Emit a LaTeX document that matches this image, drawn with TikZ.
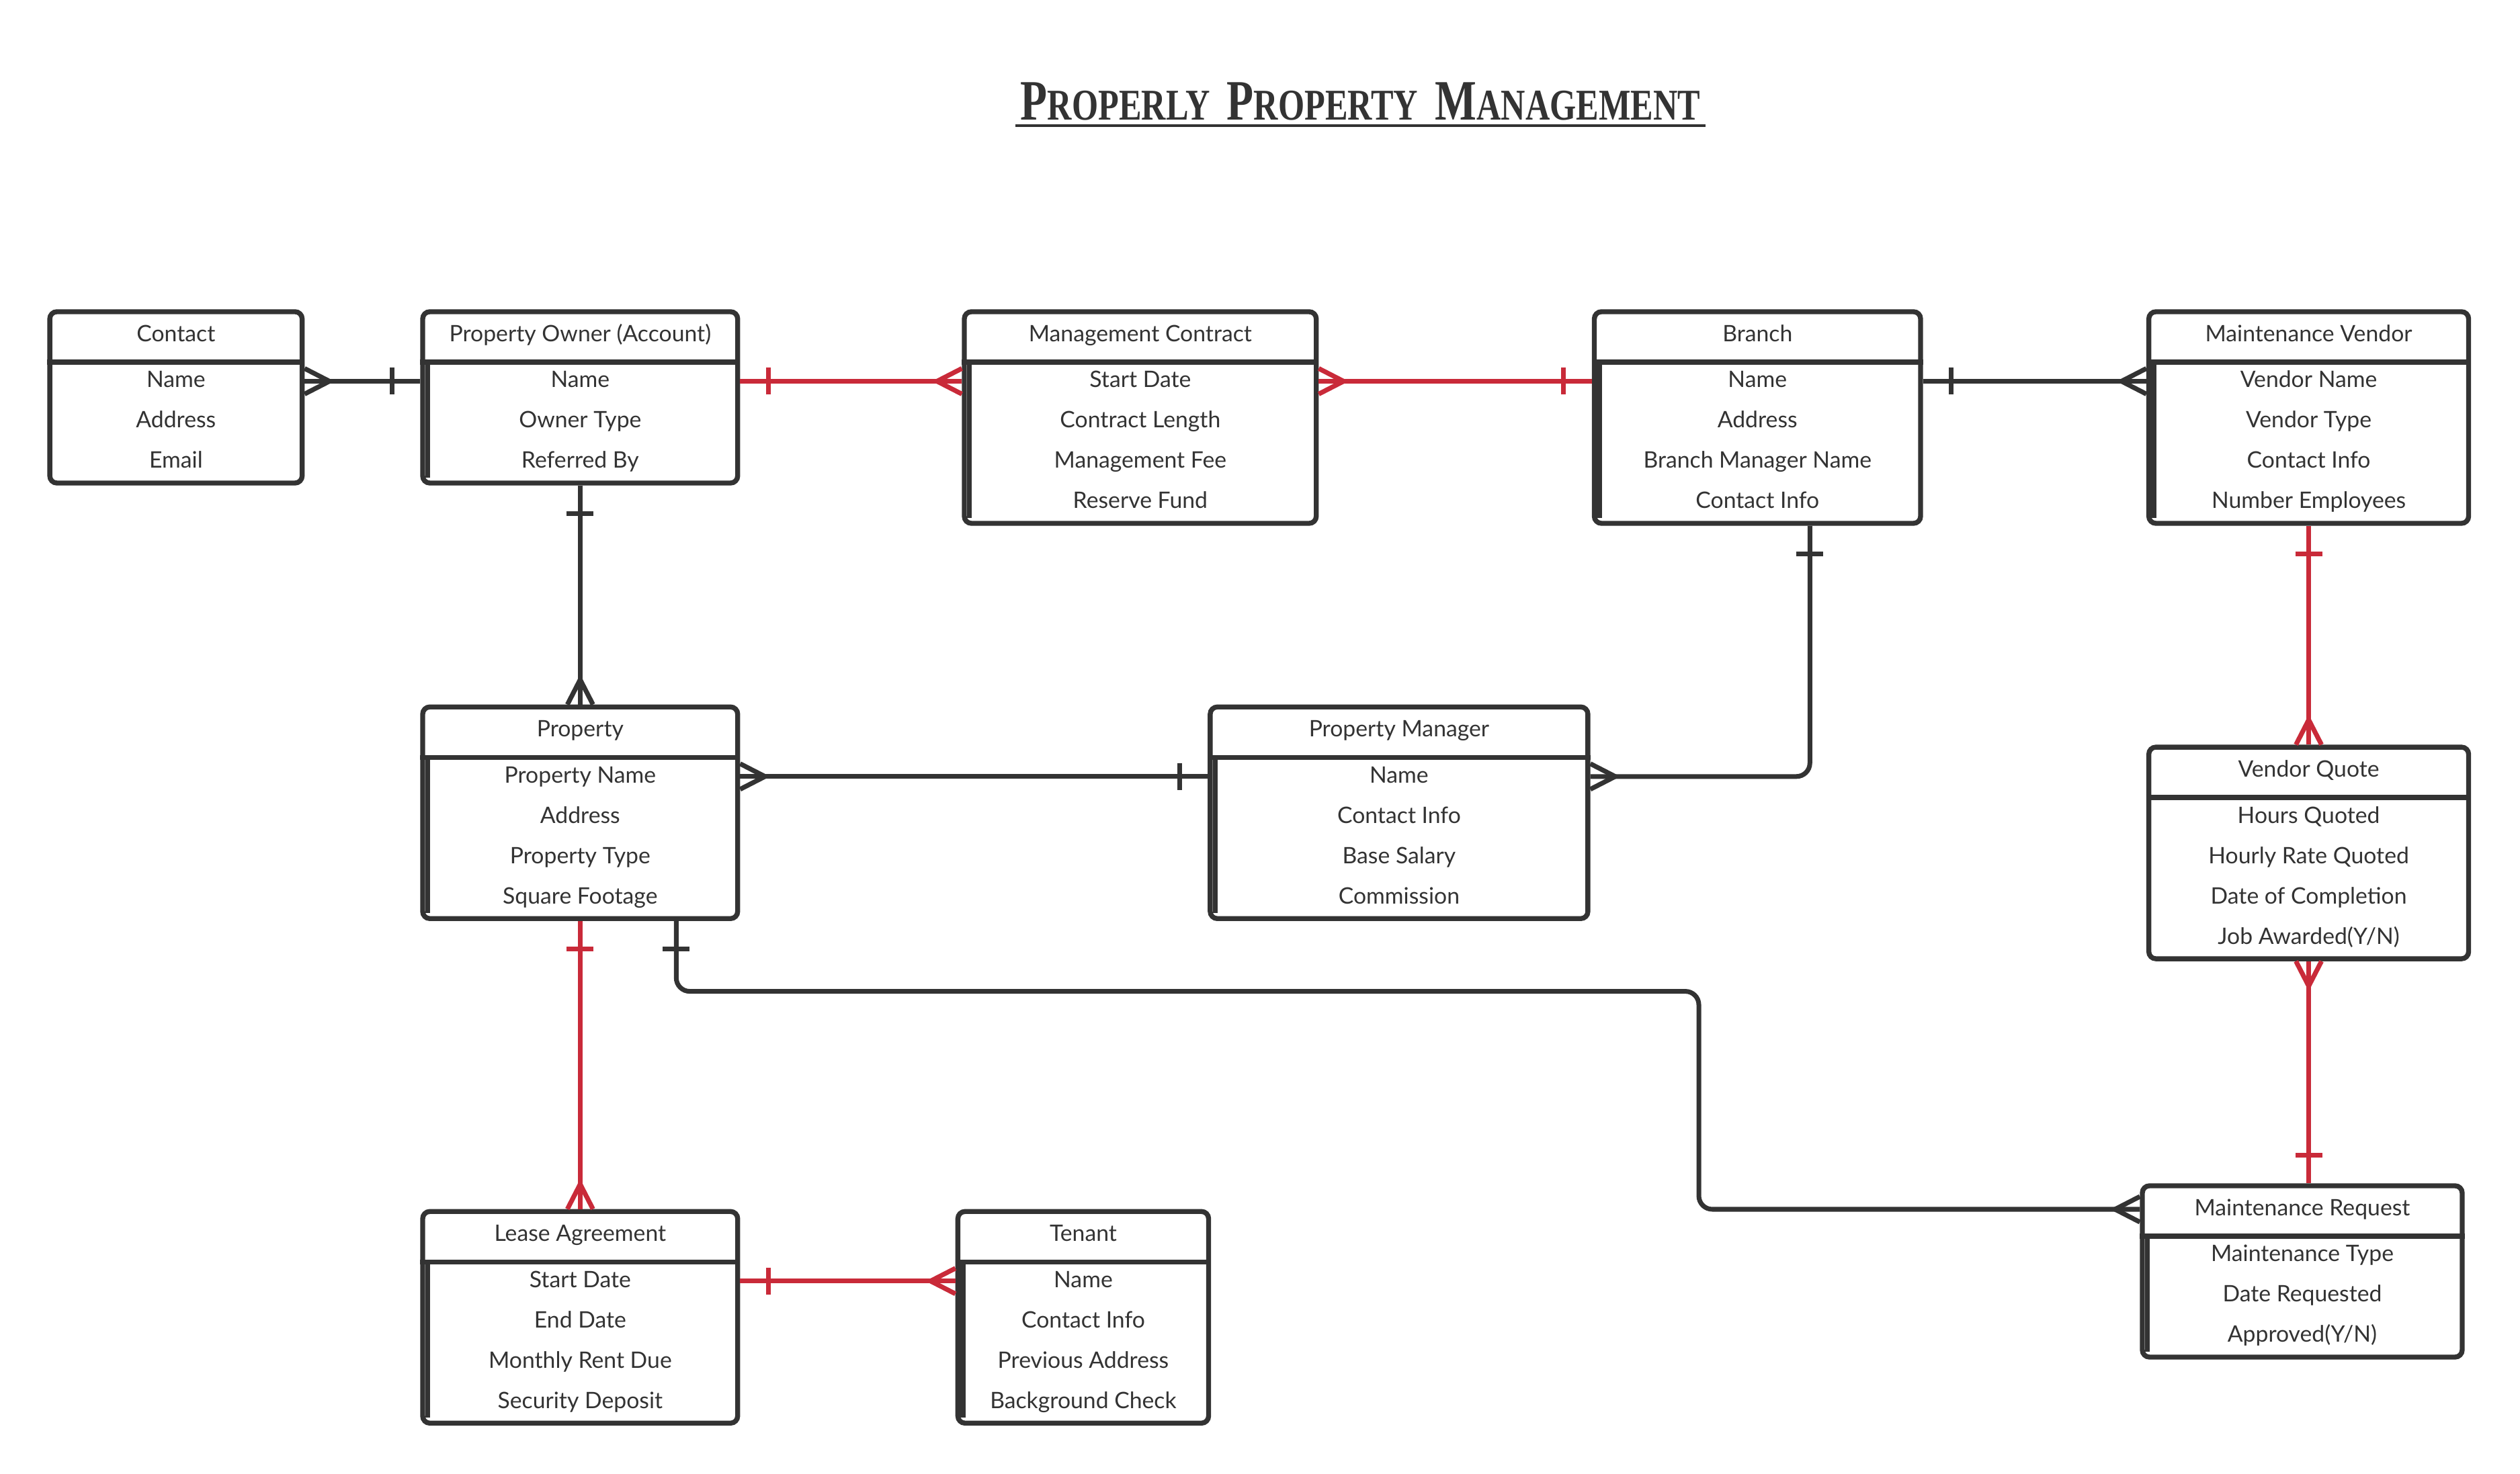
\documentclass[tikz,border=0pt]{standalone}
\usepackage{fontspec}
\usepackage{graphicx}
\usetikzlibrary{arrows.meta,positioning,calc}
\newfontfamily\attrfont{Lato}
\newfontfamily\titlefont{Liberation Serif}
\definecolor{ink}{HTML}{333333}
\definecolor{erred}{HTML}{C92A39}

% crow's foot (many) and single bar ends
\pgfdeclarearrow{
  name = Crow,
  parameters = {\the\pgfarrowlength,\the\pgfarrowwidth},
  setup code = {
    \pgfarrowssettipend{0pt}
    \pgfarrowssetlineend{0pt}
    \pgfarrowssetbackend{-\pgfarrowlength}
    \pgfarrowssavethe\pgfarrowlength
    \pgfarrowssavethe\pgfarrowwidth
  },
  drawing code = {
    \pgfpathmoveto{\pgfqpoint{0pt}{0.5\pgfarrowwidth}}
    \pgfpathlineto{\pgfqpoint{-\pgfarrowlength}{0pt}}
    \pgfpathlineto{\pgfqpoint{0pt}{-0.5\pgfarrowwidth}}
    \pgfusepathqstroke
  },
  defaults = {length = 0.37cm, width = 0.38cm}
}
\pgfdeclarearrow{
  name = OneBar,
  parameters = {\the\pgfarrowlength,\the\pgfarrowwidth},
  setup code = {
    \pgfarrowssettipend{0pt}
    \pgfarrowssetlineend{0pt}
    \pgfarrowssetbackend{-\pgfarrowlength}
    \pgfarrowssavethe\pgfarrowlength
    \pgfarrowssavethe\pgfarrowwidth
  },
  drawing code = {
    \pgfpathmoveto{\pgfqpoint{-\pgfarrowlength}{0.5\pgfarrowwidth}}
    \pgfpathlineto{\pgfqpoint{-\pgfarrowlength}{-0.5\pgfarrowwidth}}
    \pgfusepathqstroke
  },
  defaults = {length = 0.42cm, width = 0.4cm}
}

\tikzset{
  ebox/.style={draw=ink, line width=2.1pt, rounded corners=3pt, fill=white,
    inner sep=0pt, anchor=north west},
  attr/.style={font={\attrfont\fontsize{9.6}{11}\selectfont}, text=ink,
    inner sep=0pt, text height=0.26cm, text depth=0.07cm},
  hrule/.style={draw=ink, line width=2.1pt},
  link/.style={draw=ink, line width=2pt},
  redlink/.style={link, draw=erred},
}

% entity: name, x, top y, width, rows, title, attributes
\newcommand{\erbox}[7]{%
  \node[ebox, minimum width=#4cm, minimum height={(0.75+#5*0.6)*1cm}] (#1) at ($(#2,#3)+(-1.05pt,1.05pt)$) {};
  \node[attr] (#1-h) at ([yshift=-0.35cm-1.05pt]#1.north) {#6};
  \draw[hrule] ([yshift=-0.75cm-1.05pt]#1.north west) -- ([yshift=-0.75cm-1.05pt]#1.north east);
  \foreach \r [count=\i] in {#7}
    \node[attr] (#1-\i) at ([yshift=-1.035cm-1.05pt-(\i-1)*0.6cm]#1.north) {\r};
}
% heavier left edge below the header
\newcommand{\thickleft}[1]{%
  \draw[ink, line width=0.075cm] ([xshift=0.075cm+1.05pt,yshift=-0.75cm-1.05pt]#1.north west) -- ([xshift=0.075cm+1.05pt,yshift=0.12cm]#1.south west);
}
\newcommand{\scword}[2]{{\fontsize{24.2}{26}\selectfont #1}{\fontsize{18.6}{20}\selectfont #2}}

\begin{document}
\begin{tikzpicture}
  \useasboundingbox (0,0) rectangle (37.5,21.94);

  % title
  \node[anchor=base, text=ink, inner sep=0pt] (title) at (20.245,20.15)
    {\scalebox{0.77}[1]{\titlefont\bfseries\scword{P}{ROPERLY}\hspace{0.33cm}\scword{P}{ROPERTY}\hspace{0.33cm}\scword{M}{ANAGEMENT}}};
  \draw[ink, line width=0.045cm] ([xshift=-0.07cm,yshift=-0.08cm]title.base west) -- ([xshift=0.07cm,yshift=-0.08cm]title.base east);

  % entities
  \erbox{contact}{0.741}{17.300}{3.755}{3}{Contact}{Name,Address,Email}
  \erbox{owner}{6.290}{17.300}{4.687}{3}{Property Owner (Account)}{Name,Owner Type,Referred By}
  \erbox{contract}{14.350}{17.300}{5.237}{4}{Management Contract}{Start Date,Contract Length,Management Fee,Reserve Fund}
  \erbox{branch}{23.725}{17.300}{4.855}{4}{Branch}{Name,Address,Branch Manager Name,Contact Info}
  \erbox{vendor}{31.976}{17.300}{4.759}{4}{Maintenance Vendor}{Vendor Name,Vendor Type,Contact Info,Number Employees}
  \erbox{property}{6.290}{11.417}{4.687}{4}{Property}{Property Name,Address,Property Type,Square Footage}
  \erbox{manager}{18.009}{11.417}{5.620}{4}{Property Manager}{Name,Contact Info,Base Salary,Commission}
  \erbox{quote}{31.976}{10.819}{4.759}{4}{Vendor Quote}{Hours Quoted,Hourly Rate Quoted,Date of Completion,Job Awarded(Y/N)}
  \erbox{request}{31.880}{4.290}{4.759}{3}{Maintenance Request}{Maintenance Type,Date Requested,Approved(Y/N)}
  \erbox{lease}{6.290}{3.907}{4.687}{4}{Lease Agreement}{Start Date,End Date,Monthly Rent Due,Security Deposit}
  \erbox{tenant}{14.254}{3.907}{3.731}{4}{Tenant}{Name,Contact Info,Previous Address,Background Check}
  \foreach \b in {owner,contract,branch,vendor,property,manager,request,lease,tenant}
    {\thickleft{\b}}

  \coordinate (bend) at (25.28,7.184);

  % relationships
  \draw[link, Crow-OneBar] (contact.east |- contact-1) -- (owner.west |- contact-1);
  \draw[redlink, OneBar-Crow] (owner.east |- owner-1) -- (contract.west |- owner-1);
  \draw[redlink, Crow-OneBar] (contract.east |- contract-1) -- (branch.west |- contract-1);
  \draw[link, OneBar-Crow] (branch.east |- branch-1) -- (vendor.west |- branch-1);
  \draw[link, OneBar-Crow] (owner.south) -- (property.north);
  \draw[link, Crow-OneBar] (property.east |- property-1) -- (manager.west |- property-1);
  \draw[link, OneBar-Crow, rounded corners=0.2cm] ([xshift=0.78cm]branch.south) |- (manager.east |- manager-1);
  \draw[redlink, OneBar-Crow] (vendor.south) -- (quote.north);
  \draw[redlink, Crow-OneBar] (quote.south) -- (quote.south |- request.north);
  \draw[link, OneBar-Crow, rounded corners=0.2cm] ([xshift=1.43cm]property.south) |- (bend) |- (request.west |- request-h);
  \draw[redlink, OneBar-Crow] (property.south) -- (lease.north);
  \draw[redlink, OneBar-Crow] (lease.east |- lease-1) -- (tenant.west |- lease-1);
\end{tikzpicture}
\end{document}
